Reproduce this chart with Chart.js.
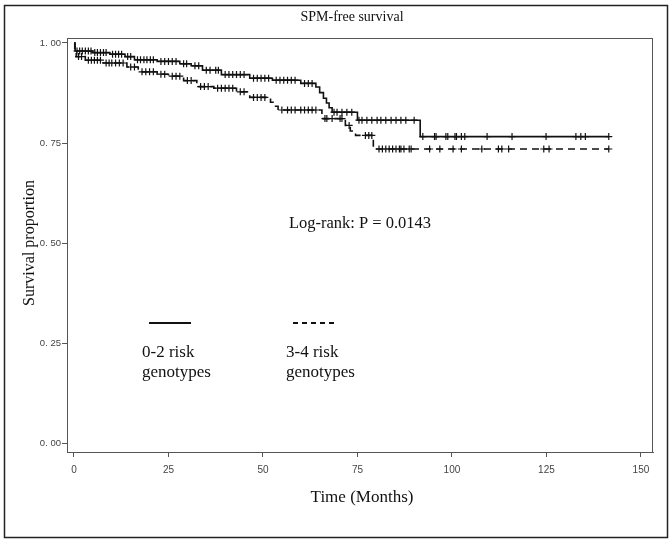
<!DOCTYPE html>
<html>
<head>
<meta charset="utf-8">
<title>SPM-free survival</title>
<script src="https://cdn.jsdelivr.net/npm/chart.js@4"></script>
<style>
    body { margin: 0; background: #fff; }
    canvas { display: block; }
</style>
</head>
<body>
<canvas id="kmChart" width="672" height="541"></canvas>
<script>
// 0-2 risk genotypes: event times (months) and survival after each event
const lowRiskTimes = [0, 0.3, 5, 9.5, 13.5, 16, 22, 28, 31, 34, 39, 46.5, 52.5, 60, 64, 65, 66, 66.8, 67.5, 68.3, 75, 91.6];
const lowRiskSurv = [1, 0.980, 0.976, 0.972, 0.966, 0.958, 0.954, 0.948, 0.943, 0.932, 0.921, 0.912, 0.907, 0.899, 0.890, 0.876, 0.862, 0.850, 0.838, 0.827, 0.807, 0.766];
const lowRiskCensor = [0.8, 1.5, 2.2, 3, 3.8, 4.5, 5.5, 6.2, 7, 7.8, 8.5, 10.2, 11, 11.8, 12.6, 14.2, 15, 16.8, 17.6, 18.5, 19.3, 20.2, 21, 23, 24, 25, 26, 27, 29, 29.8, 32, 33, 35, 36, 37.5, 38.2, 40, 41, 42, 43, 44, 45, 47.5, 48.5, 49.5, 50.5, 51.5, 53.5, 54.5, 55.5, 56.5, 57.5, 58.5, 61, 62, 63, 68.8, 69.6, 70.9, 72.2, 73.5, 75.4, 76.2, 77.5, 78.8, 80.2, 81.2, 82.5, 83.9, 85.2, 86.5, 87.8, 90, 92.3, 95.4, 95.8, 98.4, 98.9, 100.8, 101.2, 102.5, 103.4, 109.3, 115.9, 124.9, 132.8, 134.1, 135.3, 141.5];

// 3-4 risk genotypes
const highRiskTimes = [0, 0.2, 0.6, 3, 7.7, 14, 17, 22, 25, 29, 32.5, 37, 43, 46.5, 52, 53, 54, 65.6, 71.8, 73.1, 74.5, 79.2];
const highRiskSurv = [1, 0.975, 0.966, 0.957, 0.950, 0.940, 0.928, 0.922, 0.917, 0.906, 0.891, 0.887, 0.878, 0.864, 0.852, 0.842, 0.8325, 0.811, 0.794, 0.780, 0.769, 0.735];
const highRiskCensor = [1.2, 2, 3.8, 4.6, 5.4, 6.2, 7, 8.5, 9.3, 10, 11, 12, 13, 15, 16, 18, 19, 20, 21, 23, 24, 26, 27, 28, 30, 31, 33.5, 34.5, 35.5, 38, 39, 40, 41, 42, 44, 45, 47.5, 48.5, 49.5, 50.5, 55, 56.5, 57.5, 58.5, 60, 61, 62, 63, 64, 66.4, 66.9, 68.3, 70.4, 70.9, 72.8, 77.1, 78, 78.8, 80.7, 81.6, 82.5, 83.4, 84.3, 85.2, 86.1, 86.5, 87.3, 88.7, 89.2, 94.1, 96.8, 100.3, 102.5, 107.9, 112.3, 113.2, 115, 124.3, 125.7, 141.5];

// оси
const xTicks = [0, 25, 50, 75, 100, 125, 150];
const yTicks = [0, 0.25, 0.5, 0.75, 1];
const yTickLabels = ['0. 00', '0. 25', '0. 50', '0. 75', '1. 00'];

const serif = '"Liberation Serif", "Times New Roman", serif';
const sans = '"Liberation Sans", Arial, sans-serif';

// survival value at time t (step function)
function survAt(times, surv, t) {
    let s = surv[0];
    for (let i = 0; i < times.length; i++) {
        if (times[i] <= t) s = surv[i];
    }
    return s;
}

function curvePoints(times, surv, censor) {
    const pts = times.map((t, i) => ({ x: t, y: surv[i] }));
    const last = Math.max(...censor);
    pts.push({ x: last, y: survAt(times, surv, last) });
    return pts;
}

function censorPoints(times, surv, censor) {
    return censor.map(t => ({ x: t, y: survAt(times, surv, t) }));
}

// рамка, заголовки, легенда
const decorPlugin = {
    id: 'decor',
    afterDraw(chart) {
        const ctx = chart.ctx;
        const a = chart.chartArea;
        ctx.save();

        // plot frame
        ctx.strokeStyle = '#555';
        ctx.lineWidth = 1;
        ctx.strokeRect(a.left + 0.5, a.top + 0.5, a.right - a.left - 1, a.bottom - a.top);

        // outer frame
        ctx.strokeStyle = '#222';
        ctx.lineWidth = 1.5;
        ctx.strokeRect(4.5, 5.5, 663, 532);

        ctx.fillStyle = '#111';
        ctx.textBaseline = 'middle';
        ctx.textAlign = 'center';
        ctx.font = '14px ' + serif;
        ctx.fillText('SPM-free survival', 352, 17);

        ctx.font = '17px ' + serif;
        ctx.fillText('Time (Months)', 362, 498);
        ctx.font = '16.5px ' + serif;
        ctx.fillText('Log-rank: P = 0.0143', 360, 224);

        ctx.save();
        ctx.translate(30, 243);
        ctx.rotate(-Math.PI / 2);
        ctx.font = '16px ' + serif;
        ctx.fillText('Survival proportion', 0, 0);
        ctx.restore();

        // legend
        ctx.strokeStyle = '#111';
        ctx.lineWidth = 2;
        ctx.beginPath();
        ctx.moveTo(149, 323);
        ctx.lineTo(191, 323);
        ctx.stroke();
        ctx.setLineDash([5, 4]);
        ctx.beginPath();
        ctx.moveTo(293, 323);
        ctx.lineTo(337, 323);
        ctx.stroke();
        ctx.setLineDash([]);

        ctx.font = '17px ' + serif;
        ctx.textAlign = 'left';
        ctx.fillText('0-2 risk', 142, 353);
        ctx.fillText('genotypes', 142, 373);
        ctx.fillText('3-4 risk', 286, 353);
        ctx.fillText('genotypes', 286, 373);

        ctx.restore();
    }
};

const ctx = document.getElementById('kmChart').getContext('2d');
new Chart(ctx, {
    type: 'scatter',
    data: {
        datasets: [
            {
                label: '0-2 risk genotypes',
                type: 'line',
                data: curvePoints(lowRiskTimes, lowRiskSurv, lowRiskCensor),
                stepped: true,
                borderColor: '#111',
                borderWidth: 1.6,
                pointRadius: 0,
                fill: false
            },
            {
                label: '3-4 risk genotypes',
                type: 'line',
                data: curvePoints(highRiskTimes, highRiskSurv, highRiskCensor),
                stepped: true,
                borderColor: '#111',
                borderWidth: 1.6,
                borderDash: [7, 5],
                pointRadius: 0,
                fill: false
            },
            {
                label: 'censored 0-2',
                data: censorPoints(lowRiskTimes, lowRiskSurv, lowRiskCensor),
                pointStyle: 'cross',
                pointRadius: 3.5,
                borderColor: '#111',
                borderWidth: 1.2
            },
            {
                label: 'censored 3-4',
                data: censorPoints(highRiskTimes, highRiskSurv, highRiskCensor),
                pointStyle: 'cross',
                pointRadius: 3.5,
                borderColor: '#111',
                borderWidth: 1.2
            }
        ]
    },
    options: {
        responsive: false,
        animation: false,
        devicePixelRatio: 1,
        layout: { padding: { left: 0, right: 19, top: 38, bottom: 0 } },
        plugins: {
            legend: { display: false },
            title: { display: false },
            tooltip: { enabled: false }
        },
        scales: {
            x: {
                type: 'linear',
                min: -1.85,
                max: 153.2,
                afterBuildTicks: s => { s.ticks = xTicks.map(v => ({ value: v })); },
                afterFit: s => { s.height = 89; },
                ticks: {
                    font: { family: sans, size: 10 },
                    color: '#444',
                    padding: 7,
                    maxRotation: 0
                },
                grid: { drawOnChartArea: false, tickLength: 5, color: '#555' },
                border: { color: '#555' }
            },
            y: {
                type: 'linear',
                min: -0.0225,
                max: 1.0125,
                afterBuildTicks: s => { s.ticks = yTicks.map(v => ({ value: v })); },
                afterFit: s => { s.width = 67; },
                ticks: {
                    callback: v => yTickLabels[yTicks.indexOf(v)],
                    font: { family: sans, size: 9.5 },
                    color: '#444',
                    padding: 1
                },
                grid: { drawOnChartArea: false, tickLength: 5, color: '#555' },
                border: { color: '#555' }
            }
        }
    },
    plugins: [decorPlugin]
});
</script>
</body>
</html>
